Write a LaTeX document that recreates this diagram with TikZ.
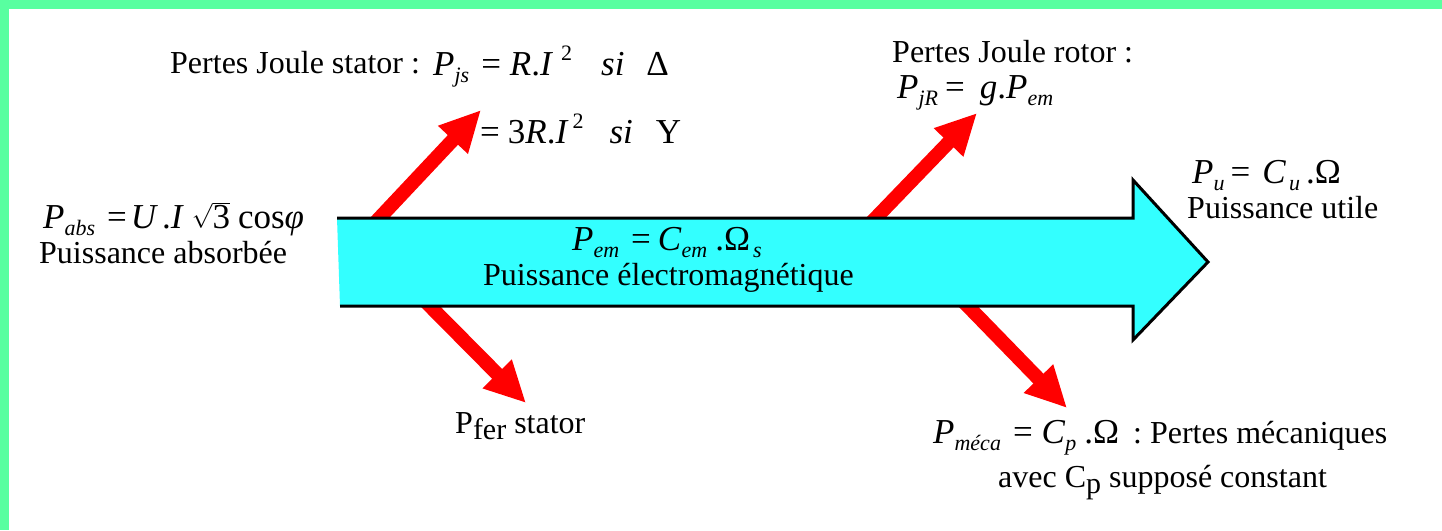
\documentclass[tikz,border=0pt]{standalone}
\usepackage{fontspec}
\setmainfont{Liberation Serif}
\usetikzlibrary{arrows.meta}
\definecolor{bordergreen}{RGB}{88,255,160}
\definecolor{flowcyan}{RGB}{51,255,255}
\newcommand\sbs[1]{\raisebox{-7pt}{\fontsize{22}{24}\selectfont #1}}
\newcommand\sps[1]{\raisebox{15pt}{\fontsize{22}{24}\selectfont #1}}
\newcommand\hs[1]{\hspace{#1pt}}
\tikzset{
  lbl/.style={anchor=base west, inner sep=0pt, font=\fontsize{32}{38}\selectfont},
  frm/.style={anchor=base west, inner sep=0pt, font=\fontsize{35}{38}\selectfont},
  loss/.style={draw=red, line width=14pt, -{Triangle[length=41pt,width=38pt]}},
  flowline/.style={draw=black, line width=3pt, line join=miter},
}
\begin{document}
\begin{tikzpicture}[x=1pt,y=-1pt]
\useasboundingbox (0,0) rectangle (1442,530);
\fill[white] (0,0) rectangle (1442,530);
% border
\fill[bordergreen] (0,0) rectangle (1442,9);
\fill[bordergreen] (0,0) rectangle (9,530);
% loss arrows (behind the main flow)
\coordinate (js0) at (372,226);
\coordinate (js1) at (481,110);
\coordinate (fe0) at (422,298);
\coordinate (fe1) at (526,403);
\coordinate (jr0) at (868,226);
\coordinate (jr1) at (977,113);
\coordinate (me0) at (960,298);
\coordinate (me1) at (1067,408);
\draw[loss] (js0) -- (js1);
\draw[loss] (fe0) -- (fe1);
\draw[loss] (jr0) -- (jr1);
\draw[loss] (me0) -- (me1);
% main power flow arrow
\fill[flowcyan] (337,218) -- (1133,218) -- (1133,180) -- (1208,262) -- (1133,340) -- (1133,306) -- (340,306) -- cycle;
\draw[flowline] (337,218) -- (1133,218) -- (1133,180) -- (1208,262) -- (1133,340) -- (1133,306) -- (340,306);
% texts
\node[lbl] (jst) at (170,73) {Pertes Joule stator :};
\node[frm] (jsf) at (433,75) {\textit{P}\sbs{\textit{js}}\hs{12}=\hs{9}\textit{R}.\textit{I}\hs{8}\sps{2}\hs{29}\textit{si}\hs{22}Δ};
\node[frm] (jsy) at (480,143) {=\hs{8}3\textit{R}.\textit{I}\hs{4}\sps{2}\hs{26}\textit{si}\hs{23}Y};
\node[frm] (abs) at (43,228) {\textit{P}\sbs{\textit{abs}}\hs{12}=\hs{4}\textit{U}\hs{4}.\textit{I}\hs{8}$\sqrt{\mbox{3}}$\hs{8}cos\textit{φ}};
\node[lbl] (absl) at (39,263) {Puissance absorbée};
\node[frm] (em) at (572,250) {\textit{P}\sbs{\textit{em}}\hs{12}=\hs{7}\textit{C}\sbs{\textit{em}}\hs{8}.Ω\hs{3}\sbs{\textit{s}}};
\node[lbl] (eml) at (483,285) {Puissance électromagnétique};
\node[lbl] (jrt) at (892,62) {Pertes Joule rotor :};
\node[frm] (jrf) at (897,98) {\textit{P}\sbs{\textit{jR}}\hs{7}=\hs{15}\textit{g}.\textit{P}\sbs{\textit{em}}};
\node[frm] (pu) at (1192,183) {\textit{P}\sbs{\textit{u}}\hs{6}=\hs{12}\textit{C}\hs{3}\sbs{\textit{u}}\hs{6}.Ω};
\node[lbl] (pul) at (1187,218) {Puissance utile};
\node[lbl] (fer) at (455,433) {P\raisebox{-6pt}{\fontsize{30}{32}\selectfont fer} stator};
\node[frm] (me) at (933,443) {\textit{P}\sbs{\textit{méca}}\hs{12}=\hs{9}\textit{C}\sbs{\textit{p}}\hs{8}.Ω\hs{14}{\fontsize{32}{38}\selectfont : Pertes mécaniques}};
\node[lbl] (mel) at (998,487) {avec C\raisebox{-6pt}{\fontsize{30}{32}\selectfont p} supposé constant};
\end{tikzpicture}
\end{document}
